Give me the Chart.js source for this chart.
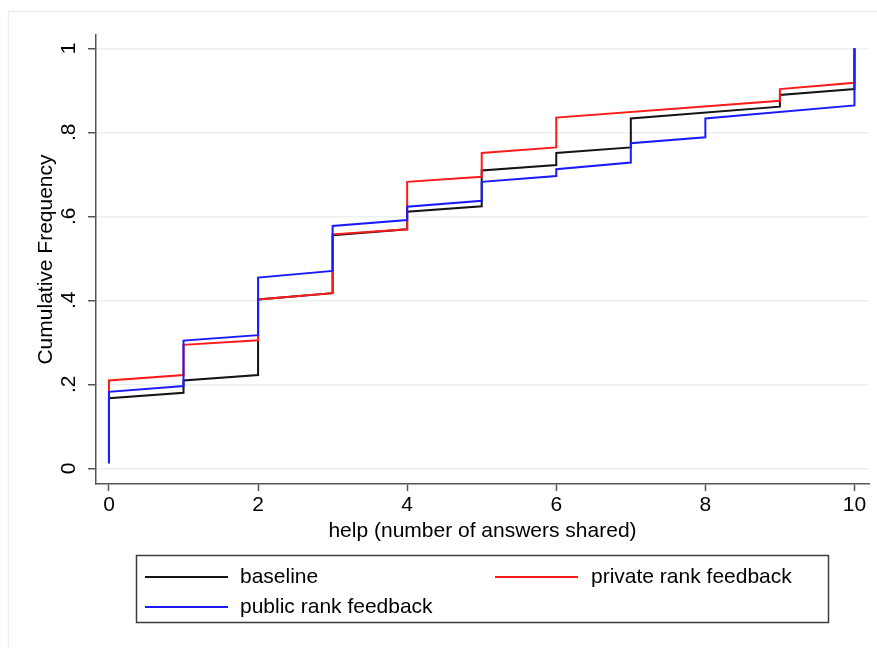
<!DOCTYPE html>
<html>
<head>
<meta charset="utf-8">
<script src="https://cdn.jsdelivr.net/npm/chart.js@4/dist/chart.umd.min.js"></script>
<style>
  html, body { margin: 0; padding: 0; background: #fff; }
  #wrap { width: 877px; height: 648px; position: relative; }
</style>
</head>
<body>
<div id="wrap"><canvas id="cdf-chart" width="877" height="648"></canvas></div>
<script>
/*
 * Cumulative frequency of help, by treatment
 * each x value has a vertical jump: low = value on arrival, high = value after the jump
**/
const helpValues = [0, 1, 2, 3, 4, 5, 6, 7, 8, 9, 10]

const baselineLow  = [0.012, 0.180, 0.222, 0.417, 0.569, 0.624, 0.722, 0.764, null, 0.861, 0.903]
const baselineHigh = [0.167, 0.209, 0.402, 0.555, 0.611, 0.709, 0.751, 0.833, null, 0.889, 1.000]

const privateLow  = [0.012, 0.222, 0.305, 0.417, 0.569, 0.694, 0.764, null, null, 0.875, 0.918]
const privateHigh = [0.209, 0.294, 0.402, 0.557, 0.682, 0.751, 0.835, null, null, 0.903, 1.000]

const publicLow  = [0.012, 0.196, 0.317, 0.470, 0.591, 0.637, 0.696, 0.728, 0.788, null, 0.864]
const publicHigh = [0.182, 0.304, 0.454, 0.577, 0.623, 0.682, 0.712, 0.774, 0.833, null, 1.000]

const seriesLabels = ['baseline', 'private rank feedback', 'public rank feedback']
const seriesColors = ['#141414', '#ff1a1a', '#1a1aff']

const xTickValues = [0, 2, 4, 6, 8, 10]
const yTickValues = [0, 0.2, 0.4, 0.6, 0.8, 1]
const yTickLabels = ['0', '.2', '.4', '.6', '.8', '1']

const FONT = '"Liberation Sans", Arial, Helvetica, sans-serif'

// Turn low/high arrays into a connected step path: (x, low) -> (x, high) -> next x
const stepPoints = (lows, highs) => {
  let points = []
  helpValues.forEach((x, i) => {
    if (lows[i] === null) return
    points.push({ x: x, y: lows[i] })
    points.push({ x: x, y: highs[i] })
  })
  return points
}

// Stata-like frame and a two-column legend box under the plot
const stataDecor = {
  id: 'stataDecor',
  beforeDraw(chart) {
    const ctx = chart.ctx
    ctx.save()
    ctx.fillStyle = '#ffffff'
    ctx.fillRect(0, 0, chart.width, chart.height)
    ctx.strokeStyle = '#e9f0f1'
    ctx.lineWidth = 1.5
    ctx.strokeRect(8.5, 11.5, chart.width + 20, chart.height + 20)
    ctx.restore()
  },
  afterDraw(chart) {
    const ctx = chart.ctx
    const slots = [
      { lx: 145, tx: 240, y: 577 },
      { lx: 495, tx: 591, y: 577 },
      { lx: 145, tx: 240, y: 607 }
    ]
    ctx.save()
    ctx.strokeStyle = '#3c3c3c'
    ctx.lineWidth = 1.5
    ctx.strokeRect(136.5, 555.5, 692, 67)
    ctx.font = `21px ${FONT}`
    ctx.textBaseline = 'middle'
    ctx.fillStyle = '#000'
    chart.data.datasets.forEach((ds, i) => {
      const s = slots[i]
      ctx.strokeStyle = ds.borderColor
      ctx.lineWidth = 2
      ctx.beginPath()
      ctx.moveTo(s.lx, s.y)
      ctx.lineTo(s.lx + 83, s.y)
      ctx.stroke()
      ctx.fillText(ds.label, s.tx, s.y)
    })
    ctx.restore()
  }
}

const datasets = [
  { label: seriesLabels[0], data: stepPoints(baselineLow, baselineHigh), borderColor: seriesColors[0], order: 2 },
  { label: seriesLabels[1], data: stepPoints(privateLow, privateHigh), borderColor: seriesColors[1], order: 1 },
  { label: seriesLabels[2], data: stepPoints(publicLow, publicHigh), borderColor: seriesColors[2], order: 0 }
].map(ds => Object.assign(ds, {
  showLine: true,
  borderWidth: 2,
  pointRadius: 0,
  fill: false,
  tension: 0
}))

const axisColor = '#555555'

new Chart(document.getElementById('cdf-chart'), {
  type: 'scatter',
  data: { datasets: datasets },
  plugins: [stataDecor],
  options: {
    responsive: false,
    animation: false,
    events: [],
    layout: { padding: { top: 35, right: 8, left: 0, bottom: 104 } },
    plugins: {
      legend: { display: false },
      tooltip: { enabled: false }
    },
    scales: {
      x: {
        type: 'linear',
        min: -0.174,
        max: 10.195,
        afterBuildTicks: scale => { scale.ticks = xTickValues.map(v => ({ value: v })) },
        afterFit: scale => { scale.height = 60 },
        grid: { drawOnChartArea: false, drawTicks: true, tickLength: 7, tickColor: axisColor, tickWidth: 1.5 },
        border: { display: true, color: axisColor, width: 1.5 },
        ticks: {
          color: '#000',
          padding: 2,
          maxRotation: 0,
          font: { family: FONT, size: 21 },
          callback: value => String(value)
        },
        title: {
          display: true,
          text: 'help (number of answers shared)',
          color: '#000',
          padding: 0,
          font: { family: FONT, size: 21 }
        }
      },
      y: {
        type: 'linear',
        min: -0.0374,
        max: 1.0317,
        afterBuildTicks: scale => { scale.ticks = yTickValues.map(v => ({ value: v })) },
        afterFit: scale => { scale.width = 96 },
        grid: { color: '#eaf1f2', lineWidth: 1.5, drawTicks: true, tickLength: 8, tickColor: axisColor, tickWidth: 1.5 },
        border: { display: true, color: axisColor, width: 1.5 },
        ticks: {
          color: '#000',
          padding: 10,
          minRotation: 90,
          maxRotation: 90,
          crossAlign: 'center',
          font: { family: FONT, size: 21 },
          callback: (value, index) => yTickLabels[index]
        },
        title: {
          display: true,
          text: 'Cumulative Frequency',
          color: '#000',
          padding: { top: 34, bottom: 0 },
          font: { family: FONT, size: 21 }
        }
      }
    }
  }
})
</script>
</body>
</html>
